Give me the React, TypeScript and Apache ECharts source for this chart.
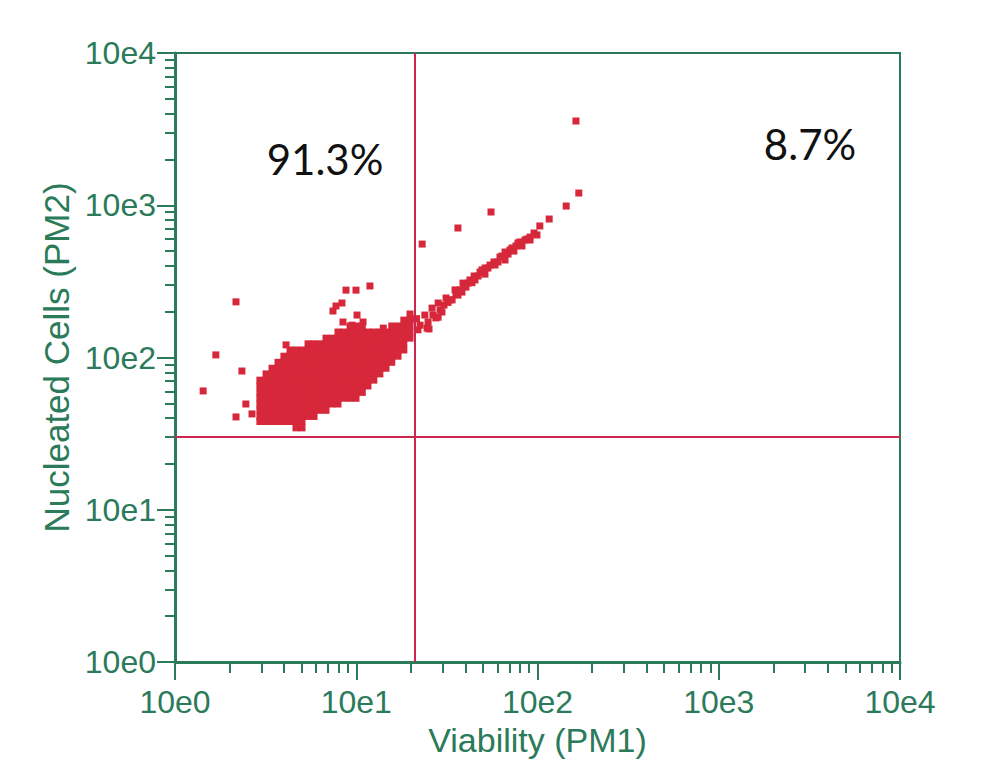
import React, { useEffect, useRef } from 'react';
import * as echarts from 'echarts';

// ---- data ----
const xTickLabels = ['10e0', '10e1', '10e2', '10e3', '10e4'];
const yTickLabels = ['10e0', '10e1', '10e2', '10e3', '10e4'];
const decadeTicks = [1, 10, 100, 1000, 10000];
const minorTicks = [
  2, 3, 4, 5, 6, 7, 8, 9,
  20, 30, 40, 50, 60, 70, 80, 90,
  200, 300, 400, 500, 600, 700, 800, 900,
  2000, 3000, 4000, 5000, 6000, 7000, 8000, 9000,
];
const gateX = 21;
const gateY = 30;
const quadrantLabels = ['91.3%', '8.7%'];
const xAxisTitle = 'Viability (PM1)';
const yAxisTitle = 'Nucleated Cells (PM2)';

// dense main population: [viability, list of nucleated-cell values in that column]
const clusterColumns: [number, number[]][] = [
  [2.94, [71, 65, 59, 54, 49.5, 45, 41, 38]],
  [3.18, [78, 71, 65, 59, 54, 49.5, 45, 41, 38]],
  [3.43, [85, 78, 71, 65, 59, 54, 49.5, 45, 41, 38]],
  [3.7, [93, 85, 78, 71, 65, 59, 54, 49.5, 45, 41, 38]],
  [3.99, [102, 93, 85, 78, 71, 65, 59, 54, 49.5, 45, 41, 38]],
  [4.31, [112, 102, 93, 85, 78, 71, 65, 59, 54, 49.5, 45, 41, 38]],
  [4.65, [112, 102, 93, 85, 78, 71, 65, 59, 54, 49.5, 45, 41, 38, 34.5]],
  [5.02, [112, 102, 93, 85, 78, 71, 65, 59, 54, 49.5, 45, 41, 38, 34.5]],
  [5.42, [123, 112, 102, 93, 85, 78, 71, 65, 59, 54, 49.5, 45, 41]],
  [5.85, [123, 112, 102, 93, 85, 78, 71, 65, 59, 54, 49.5, 45, 41]],
  [6.31, [123, 112, 102, 93, 85, 78, 71, 65, 59, 54, 49.5, 45]],
  [6.81, [134, 123, 112, 102, 93, 85, 78, 71, 65, 59, 54, 49.5, 45]],
  [7.35, [134, 123, 112, 102, 93, 85, 78, 71, 65, 59, 54, 49.5]],
  [7.93, [147, 134, 123, 112, 102, 93, 85, 78, 71, 65, 59, 54, 49.5]],
  [8.56, [147, 134, 123, 112, 102, 93, 85, 78, 71, 65, 59, 54]],
  [9.24, [161, 147, 134, 123, 112, 102, 93, 85, 78, 71, 65, 59, 54]],
  [9.97, [161, 147, 134, 123, 112, 102, 93, 85, 78, 71, 65, 59, 54]],
  [10.8, [161, 147, 134, 123, 112, 102, 93, 85, 78, 71, 65, 59]],
  [11.6, [147, 134, 123, 112, 102, 93, 85, 78, 71, 65]],
  [12.5, [147, 134, 123, 112, 102, 93, 85, 78, 71]],
  [13.5, [147, 134, 123, 112, 102, 93, 85, 78]],
  [14.6, [147, 134, 123, 112, 102, 93, 85]],
  [15.7, [161, 147, 134, 123, 112, 102, 93]],
  [17.0, [161, 147, 134, 123, 112, 102]],
  [18.3, [176, 161, 147, 134, 123, 112]],
  [19.8, [193, 176, 161, 147, 134]],
];

// scattered events around the main population
const clusterFringe: [number, number][] = [
  [7.44, 202], [7.73, 218], [8.34, 228], [10.1, 190], [10.9, 171], [8.45, 171],
  [9.48, 163], [11.9, 141], [14.1, 156], [8.78, 277], [9.97, 277], [11.9, 295],
  [4.1, 121], [2.46, 49.5], [2.17, 40.7], [2.66, 42.6], [2.34, 81.5],
  [1.68, 104], [1.43, 60.3], [2.17, 232],
];

// diagonal stream crossing the vertical gate
const diagonalStream: [number, number][] = [
  [21.5, 180], [21.9, 152], [22.5, 163], [23.9, 190], [24.6, 156], [24.9, 171],
  [25.2, 154], [26.5, 190], [26.2, 211], [27.5, 182], [28.3, 228], [28.3, 184],
  [29.0, 205], [29.7, 199], [30.5, 221], [31.3, 246], [32.1, 230], [32.9, 239],
  [33.8, 239], [35.1, 278], [35.5, 261], [36.4, 257], [37.3, 278], [38.3, 269],
  [38.8, 308], [39.8, 304], [40.3, 290], [41.4, 308], [42.4, 323], [43.5, 310],
  [44.7, 343], [45.2, 323], [47.0, 343], [48.2, 364], [49.4, 376], [51.3, 353],
  [51.3, 387], [53.3, 387], [54.7, 405], [57.5, 424], [58.3, 405], [60.5, 424],
  [62.1, 457], [63.7, 464], [66.2, 437], [66.2, 493], [68.8, 478], [70.5, 508],
  [72.3, 524], [74.1, 500], [76.1, 540], [78.0, 565], [80.0, 574], [82.1, 540],
  [85.3, 591], [87.5, 600], [90.9, 591], [90.9, 618], [95.7, 657], [99.3, 638],
  [103, 731], [116, 812], [144, 988], [169, 1203],
];

const streamOutliers: [number, number][] = [
  [23.1, 556], [36.4, 709], [55.4, 903], [163, 3575],
];

const GREEN = '#2b7a5a';
const POINT_RED = '#d6283a';
const GATE_RED = '#cc2650';

export default function App() {
  const ref = useRef<HTMLDivElement>(null);

  useEffect(() => {
    if (!ref.current) return;
    const chart = echarts.init(ref.current, undefined, { renderer: 'svg' });

    const points: [number, number][] = [];
    clusterColumns.forEach(([x, ys]) => ys.forEach((y) => points.push([x, y])));
    clusterFringe.forEach((p) => points.push(p));
    diagonalStream.forEach((p) => points.push(p));
    streamOutliers.forEach((p) => points.push(p));

    const labelFont = {
      color: GREEN,
      fontSize: 32,
      fontFamily: '"Liberation Sans", Arial, sans-serif',
    };

    const tickStyle = { color: GREEN, width: 2 };

    chart.setOption({
      animation: false,
      backgroundColor: '#ffffff',
      grid: {
        left: 175,
        right: 93,
        top: 53,
        bottom: 109,
        show: true,
        borderColor: GREEN,
        borderWidth: 2,
        backgroundColor: 'transparent',
      },
      xAxis: [
        {
          type: 'log',
          logBase: 10,
          min: 1,
          max: 10000,
          position: 'bottom',
          name: xAxisTitle,
          nameLocation: 'middle',
          nameGap: 59,
          nameTextStyle: { ...labelFont, fontSize: 34 },
          axisLine: { show: true, onZero: false, lineStyle: { color: GREEN, width: 3 } },
          axisTick: { show: true, inside: false, length: 18, customValues: decadeTicks, lineStyle: tickStyle },
          minorTick: { show: false },
          axisLabel: {
            ...labelFont,
            margin: 24,
            customValues: decadeTicks,
            formatter: (v: number) => xTickLabels[Math.round(Math.log10(v))],
          },
          splitLine: { show: false },
        },
        {
          type: 'log',
          logBase: 10,
          min: 1,
          max: 10000,
          position: 'bottom',
          axisLine: { show: false, onZero: false },
          axisTick: { show: true, inside: false, length: 11, customValues: minorTicks, lineStyle: tickStyle },
          minorTick: { show: false },
          axisLabel: { show: false },
          splitLine: { show: false },
        },
      ],
      yAxis: [
        {
          type: 'log',
          logBase: 10,
          min: 1,
          max: 10000,
          position: 'left',
          name: yAxisTitle,
          nameLocation: 'middle',
          nameGap: 85,
          nameRotate: 90,
          nameTextStyle: { ...labelFont, fontSize: 35 },
          axisLine: { show: true, onZero: false, lineStyle: { color: GREEN, width: 3 } },
          axisTick: { show: true, inside: false, length: 18, customValues: decadeTicks, lineStyle: tickStyle },
          minorTick: { show: false },
          axisLabel: {
            ...labelFont,
            margin: 19,
            customValues: decadeTicks,
            formatter: (v: number) => yTickLabels[Math.round(Math.log10(v))],
          },
          splitLine: { show: false },
        },
        {
          type: 'log',
          logBase: 10,
          min: 1,
          max: 10000,
          position: 'left',
          axisLine: { show: false, onZero: false },
          axisTick: { show: true, inside: false, length: 10, customValues: minorTicks, lineStyle: tickStyle },
          minorTick: { show: false },
          axisLabel: { show: false },
          splitLine: { show: false },
        },
      ],
      series: [
        {
          type: 'scatter',
          xAxisIndex: 0,
          yAxisIndex: 0,
          symbol: 'rect',
          symbolSize: 7,
          itemStyle: { color: POINT_RED, opacity: 1 },
          data: points,
          markLine: {
            silent: true,
            symbol: ['none', 'none'],
            label: { show: false },
            lineStyle: { color: GATE_RED, width: 2, type: 'solid' },
            data: [{ xAxis: gateX }, { yAxis: gateY }],
          },
        },
      ],
      graphic: [
        {
          type: 'text',
          x: 325,
          y: 159,
          style: {
            text: quadrantLabels[0],
            fill: '#111111',
            font: '42px Lato, "Noto Sans", sans-serif',
            textAlign: 'center',
            textVerticalAlign: 'middle',
          },
        },
        {
          type: 'text',
          x: 810,
          y: 144,
          style: {
            text: quadrantLabels[1],
            fill: '#111111',
            font: '42px Lato, "Noto Sans", sans-serif',
            textAlign: 'center',
            textVerticalAlign: 'middle',
          },
        },
      ],
    });

    return () => chart.dispose();
  }, []);

  return (
    <div
      ref={ref}
      style={{ position: 'fixed', left: 0, top: 0, width: 993, height: 771, background: '#fff' }}
    />
  );
}
